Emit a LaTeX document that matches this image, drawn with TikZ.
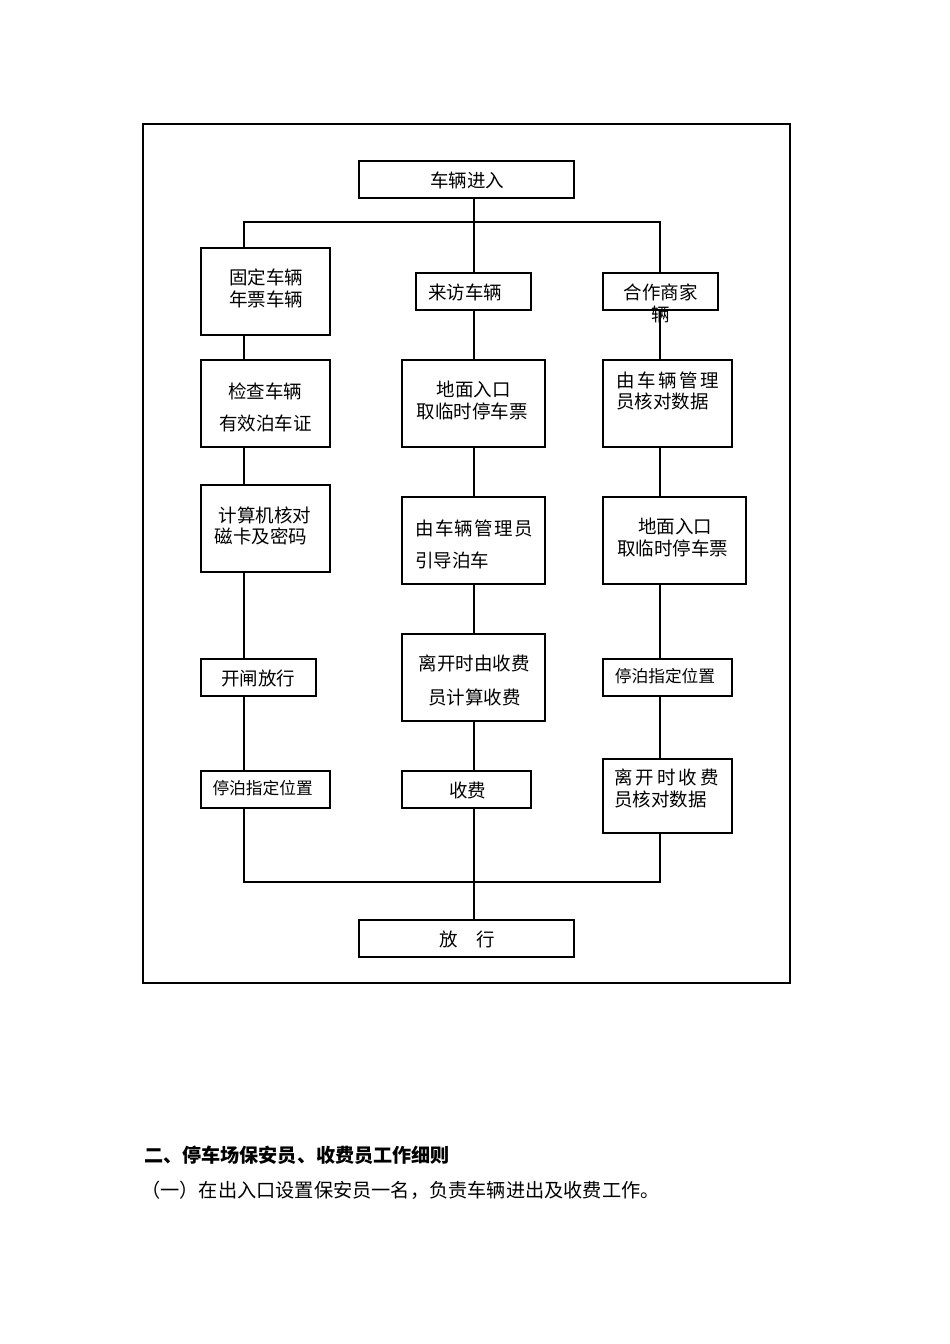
\documentclass[tikz,border=0pt]{standalone}
\usepackage{fontspec}
\newfontfamily\cjk{Noto Sans CJK SC}
\newcommand\gapA{\hspace{2.5pt}}
\newcommand\gapB{\hspace{1.4pt}}
\newcommand\gapC{\hspace{3pt}}
\begin{document}
\begin{tikzpicture}[x=1pt,y=-1pt,
  box/.style={draw=black,line width=1.2pt,inner sep=0pt,outer sep=0pt},
  txt/.style={inner sep=0pt,font=\cjk\fontsize{18.5pt}{18.5pt}\selectfont},
  small/.style={inner sep=0pt,font=\cjk\fontsize{16.7pt}{16.7pt}\selectfont},
  para/.style={inner sep=0pt,anchor=west,font=\cjk\fontsize{19.2pt}{19.2pt}\selectfont},
  conn/.style={line width=1.2pt}]
\useasboundingbox (0,0) rectangle (950,1344);
\fill[white] (0,0) rectangle (950,1344);
% outer frame
\draw[line width=2.5pt] (143,124) rectangle (790,983);
% boxes
\node[box,minimum width=215pt,minimum height=37pt] (top) at (466.5,179.5) {};
\node[box,minimum width=129pt,minimum height=87pt] (b11) at (265.5,291.5) {};
\node[box,minimum width=115pt,minimum height=37pt] (b21) at (473.5,291.5) {};
\node[box,minimum width=115pt,minimum height=37pt] (b31) at (660.5,291.5) {};
\node[box,minimum width=129pt,minimum height=87pt] (b12) at (265.5,403.5) {};
\node[box,minimum width=143pt,minimum height=87pt] (b22) at (473.5,403.5) {};
\node[box,minimum width=129pt,minimum height=87pt] (b32) at (667.5,403.5) {};
\node[box,minimum width=129pt,minimum height=87pt] (b13) at (265.5,528.5) {};
\node[box,minimum width=143pt,minimum height=87pt] (b23) at (473.5,540.5) {};
\node[box,minimum width=143pt,minimum height=87pt] (b33) at (674.5,540.5) {};
\node[box,minimum width=115pt,minimum height=37pt] (b14) at (258.5,677.5) {};
\node[box,minimum width=143pt,minimum height=87pt] (b24) at (473.5,677.5) {};
\node[box,minimum width=129pt,minimum height=37pt] (b34) at (667.5,677.5) {};
\node[box,minimum width=129pt,minimum height=37pt] (b15) at (265.5,789.5) {};
\node[box,minimum width=129pt,minimum height=37pt] (b25) at (466.5,789.5) {};
\node[box,minimum width=129pt,minimum height=74pt] (b35) at (667.5,796) {};
\node[box,minimum width=215pt,minimum height=37pt] (bot) at (466.5,938.5) {};
% column coordinates
\coordinate (cl) at (244,222);
\coordinate (cm) at (474,222);
\coordinate (cr) at (660,222);
\coordinate (dl) at (244,882);
\coordinate (dm) at (474,882);
\coordinate (dr) at (660,882);
% connectors
\draw[conn] (cm |- top.south) -- (cm |- b21.north);
\draw[conn] (cl |- b11.north) -- (cl) -- (cr) -- (cr |- b31.north);
\draw[conn] (cl |- b11.south) -- (cl |- b12.north);
\draw[conn] (cl |- b12.south) -- (cl |- b13.north);
\draw[conn] (cl |- b13.south) -- (cl |- b14.north);
\draw[conn] (cl |- b14.south) -- (cl |- b15.north);
\draw[conn] (cl |- b15.south) -- (dl) -- (dr) -- (cr |- b35.south);
\draw[conn] (cm |- b21.south) -- (cm |- b22.north);
\draw[conn] (cm |- b22.south) -- (cm |- b23.north);
\draw[conn] (cm |- b23.south) -- (cm |- b24.north);
\draw[conn] (cm |- b24.south) -- (cm |- b25.north);
\draw[conn] (cm |- b25.south) -- (dm) -- (cm |- bot.north);
\draw[conn] (cr |- b31.south) -- (cr |- b32.north);
\draw[conn] (cr |- b32.south) -- (cr |- b33.north);
\draw[conn] (cr |- b33.south) -- (cr |- b34.north);
\draw[conn] (cr |- b34.south) -- (cr |- b35.north);
% texts
\node[txt] (t0) at (467,180) {车辆进入};
\node[txt] (t11a) at (266,277) {固定车辆};
\node[txt] (t11b) at (266,299) {年票车辆};
\node[txt,anchor=west] (t21) at (428,292) {来访车辆};
\node[txt] (t31a) at (660.5,292) {合作商家};
\node[txt] (t31b) at (661,314) {辆};
\node[txt] (t12a) at (265,391) {检查车辆};
\node[txt] (t12b) at (265.5,423) {有效泊车证};
\node[txt] (t22a) at (473.5,389) {地面入口};
\node[txt] (t22b) at (472,411) {取临时停车票};
\node[txt,anchor=west] (t32a) at (616,380) {由\gapA 车\gapA 辆\gapA 管\gapA 理};
\node[txt,anchor=west] (t32b) at (616,401) {员核对数据};
\node[txt] (t13a) at (265,515) {计算机核对};
\node[txt] (t13b) at (261,536) {磁卡及密码};
\node[txt,anchor=west] (t23a) at (415,528) {由\gapB 车\gapB 辆\gapB 管\gapB 理\gapB 员};
\node[txt,anchor=west] (t23b) at (415,560) {引导泊车};
\node[txt] (t33a) at (675,526) {地面入口};
\node[txt] (t33b) at (672.5,548) {取临时停车票};
\node[txt] (t14) at (258,678) {开闸放行};
\node[txt] (t24a) at (474,663) {离开时由收费};
\node[txt] (t24b) at (474.5,697) {员计算收费};
\node[small] (t34) at (665,676) {停泊指定位置};
\node[small] (t15) at (262.6,788) {停泊指定位置};
\node[txt] (t25) at (467.5,790) {收费};
\node[txt,anchor=west] (t35a) at (614,777) {离\gapC 开\gapC 时\gapC 收\gapC 费};
\node[txt,anchor=west] (t35b) at (614,799) {员核对数据};
\node[txt] (tbot) at (467,939) {放　行};
% paragraph below
\node[para,font=\cjk\bfseries\fontsize{19.1pt}{19.1pt}\selectfont] (h2) at (144,1155) {二、停车场保安员、收费员工作细则};
\node[para] (p1) at (141,1190) {（一）在出入口设置保安员一名，负责车辆进出及收费工作。};
\end{tikzpicture}
\end{document}
